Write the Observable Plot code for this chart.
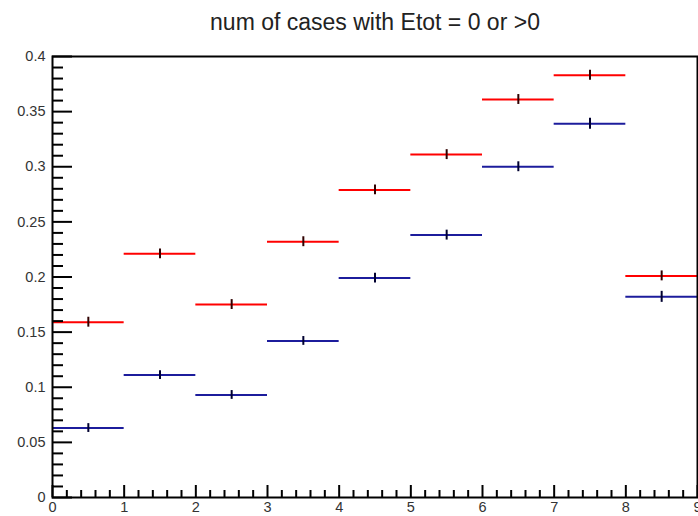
<!DOCTYPE html>
<html>
<head>
<meta charset="utf-8">
<script src="https://cdn.jsdelivr.net/npm/d3@7"></script>
<script src="https://cdn.jsdelivr.net/npm/@observablehq/plot@0.6"></script>
<style>
  html, body { margin: 0; padding: 0; background: #fff; }
  svg { font-family: "Liberation Sans", Arial, sans-serif; display: block; }
</style>
</head>
<body>
<div id="chart"></div>
<script>
const title = "num of cases with Etot = 0 or >0";
const binLow = [0, 1, 2, 3, 4, 5, 6, 7, 8];
const binHigh = [1, 2, 3, 4, 5, 6, 7, 8, 9];
const redValues = [0.159, 0.221, 0.175, 0.232, 0.279, 0.311, 0.361, 0.383, 0.201];
const redErrors = [0.0045, 0.0045, 0.0045, 0.0045, 0.0045, 0.0045, 0.0045, 0.0045, 0.0045];
const blueValues = [0.063, 0.111, 0.093, 0.142, 0.199, 0.238, 0.300, 0.339, 0.182];
const blueErrors = [0.004, 0.004, 0.004, 0.004, 0.0045, 0.0045, 0.0045, 0.005, 0.005];
const yTickValues = [0, 0.05, 0.1, 0.15, 0.2, 0.25, 0.3, 0.35, 0.4];
const yTickLabels = ["0", "0.05", "0.1", "0.15", "0.2", "0.25", "0.3", "0.35", "0.4"];
const xTickValues = [0, 1, 2, 3, 4, 5, 6, 7, 8, 9];
const xTickLabels = ["0", "1", "2", "3", "4", "5", "6", "7", "8", "9"];

const red = binLow.map((lo, i) => ({lo, hi: binHigh[i], mid: (lo + binHigh[i]) / 2, v: redValues[i], e: redErrors[i]}));
const blue = binLow.map((lo, i) => ({lo, hi: binHigh[i], mid: (lo + binHigh[i]) / 2, v: blueValues[i], e: blueErrors[i]}));

const W = 698, H = 516, mL = 52, mR = 1, mT = 56, mB = 19;
const fw = W - mL - mR, fh = H - mT - mB;
const yMinor = d3.range(0, 41).map(i => i / 100).filter(v => !yTickValues.some(t => Math.abs(t - v) < 1e-9));
const xMinor = d3.range(0, 46).map(i => i / 5).filter(v => Math.abs(v - Math.round(v)) > 1e-9);

const redColor = "#ff0000";
const blueColor = "#1c1c9c";

const chart = Plot.plot({
  width: W,
  height: H,
  marginLeft: mL,
  marginRight: mR,
  marginTop: mT,
  marginBottom: mB,
  x: {domain: [0, 9]},
  y: {domain: [0, 0.4]},
  marks: [
    Plot.ruleY(blue, {y: "v", x1: "lo", x2: "hi", stroke: blueColor, strokeWidth: 2}),
    Plot.ruleY(red, {y: "v", x1: "lo", x2: "hi", stroke: redColor, strokeWidth: 2}),
    Plot.ruleX(blue, {x: "mid", y1: d => d.v - d.e, y2: d => d.v + d.e, stroke: "#000030", strokeWidth: 2}),
    Plot.ruleX(red, {x: "mid", y1: d => d.v - d.e, y2: d => d.v + d.e, stroke: "#300000", strokeWidth: 2}),
    Plot.tickY(yTickValues, {y: d => d, insetRight: fw - 20, stroke: "black", strokeWidth: 2}),
    Plot.tickY(yMinor, {y: d => d, insetRight: fw - 11, stroke: "black", strokeWidth: 2}),
    Plot.tickX(xTickValues, {x: d => d, insetTop: fh - 12, stroke: "black", strokeWidth: 2}),
    Plot.tickX(xMinor, {x: d => d, insetTop: fh - 7, stroke: "black", strokeWidth: 2}),
    Plot.frame({stroke: "black", strokeWidth: 2}),
    Plot.axisY({ticks: yTickValues, tickFormat: (d, i) => yTickLabels[i], tickSize: 0, tickPadding: 7, fontSize: 14.5, letterSpacing: "0.8px", fill: "#333", label: null}),
    Plot.axisX({ticks: xTickValues, tickFormat: (d, i) => xTickLabels[i], tickSize: 0, tickPadding: 4, fontSize: 14.5, fill: "#333", label: null}),
    Plot.text([title], {frameAnchor: "top", lineAnchor: "bottom", dy: -27, fontSize: 23, fill: "#222"})
  ]
});
document.getElementById("chart").appendChild(chart);
</script>
</body>
</html>
